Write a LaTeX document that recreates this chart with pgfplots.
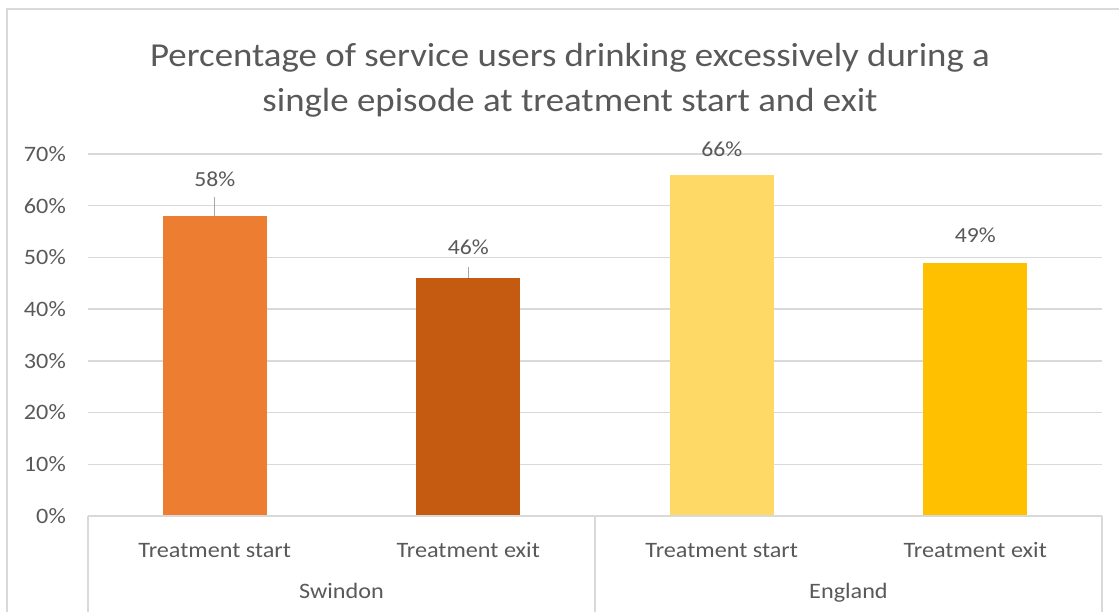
\documentclass[border=0pt]{standalone}
\usepackage{pgfplots}
\pgfplotsset{compat=1.18}
\usepackage{fontspec}
\setmainfont{Carlito}[FakeStretch=1.1]
\definecolor{txt}{HTML}{595959}
\definecolor{grd}{HTML}{D9D9D9}
\definecolor{cA}{HTML}{ED7D31}
\definecolor{cB}{HTML}{C55A11}
\definecolor{cC}{HTML}{FFD966}
\definecolor{cD}{HTML}{FFC000}
\begin{document}
\begin{tikzpicture}[x=1pt,y=1pt]
\useasboundingbox (0,0) rectangle (1119,612);
\fill[white] (0,0) rectangle (1119,612);
\draw[grd, line width=1.5pt] (7,0) -- (7,603) -- (1119,603);
\node[txt, font=\fontsize{33.5}{45}\selectfont, align=center] at (570,531.5)
  {Percentage of service users drinking excessively during a\\single episode at treatment start and exit};
\begin{axis}[
  at={(88pt,96pt)}, anchor=south west,
  scale only axis, width=1014pt, height=362pt,
  xmin=-0.5, xmax=3.5, ymin=0, ymax=70,
  /pgf/number format/assume math mode=true,
  ytick={0,10,...,70},
  yticklabel={\pgfmathprintnumber{\tick}\%},
  yticklabel style={font=\fontsize{22}{25}\selectfont, text=txt, anchor=east, inner sep=0pt, xshift=-22pt},
  xtick={0,1,2,3},
  xticklabels={Treatment start,Treatment exit,Treatment start,Treatment exit},
  xticklabel style={font=\fontsize{22}{25}\selectfont, text=txt, anchor=base, inner sep=0pt, yshift=-42pt},
  major tick length=0pt,
  axis line style={draw=none},
  ymajorgrids, grid style={grd, line width=1.3pt},
  ybar, bar width=104pt,
  every axis plot/.append style={bar shift=0pt, draw=none},
  nodes near coords={\pgfmathprintnumber{\pgfplotspointmeta}\%},
  every node near coord/.append style={font=\fontsize{21.5}{25}\selectfont, text=txt, anchor=base, inner sep=0pt},
  clip=false,
]
\addplot[fill=cA, nodes near coords style={yshift=29.5pt},
  error bars/.cd, y dir=plus, y explicit, error mark=none,
  error bar style={color=gray!70, line width=1.2pt}]
  coordinates {(0,58) +- (0,3.7)};
\addplot[fill=cB, nodes near coords style={yshift=23.5pt},
  error bars/.cd, y dir=plus, y explicit, error mark=none,
  error bar style={color=gray!70, line width=1.2pt}]
  coordinates {(1,46) +- (0,2.1)};
\addplot[fill=cC, nodes near coords style={yshift=18pt}] coordinates {(2,66)};
\addplot[fill=cD, nodes near coords style={yshift=20pt}] coordinates {(3,49)};
\draw[grd, line width=1.3pt] (rel axis cs:0,0) -- (rel axis cs:1,0);
\draw[grd, line width=1.3pt] (rel axis cs:0,0) -- ++(0pt,-96pt);
\draw[grd, line width=1.3pt] (rel axis cs:0.5,0) -- ++(0pt,-96pt);
\draw[grd, line width=1.3pt] (rel axis cs:1,0) -- ++(0pt,-96pt);
\node[txt, font=\fontsize{22}{25}\selectfont, anchor=base, inner sep=0pt] at ([yshift=-83pt]axis cs:0.5,0) {Swindon};
\node[txt, font=\fontsize{22}{25}\selectfont, anchor=base, inner sep=0pt] at ([yshift=-83pt]axis cs:2.5,0) {England};
\end{axis}
\end{tikzpicture}
\end{document}
